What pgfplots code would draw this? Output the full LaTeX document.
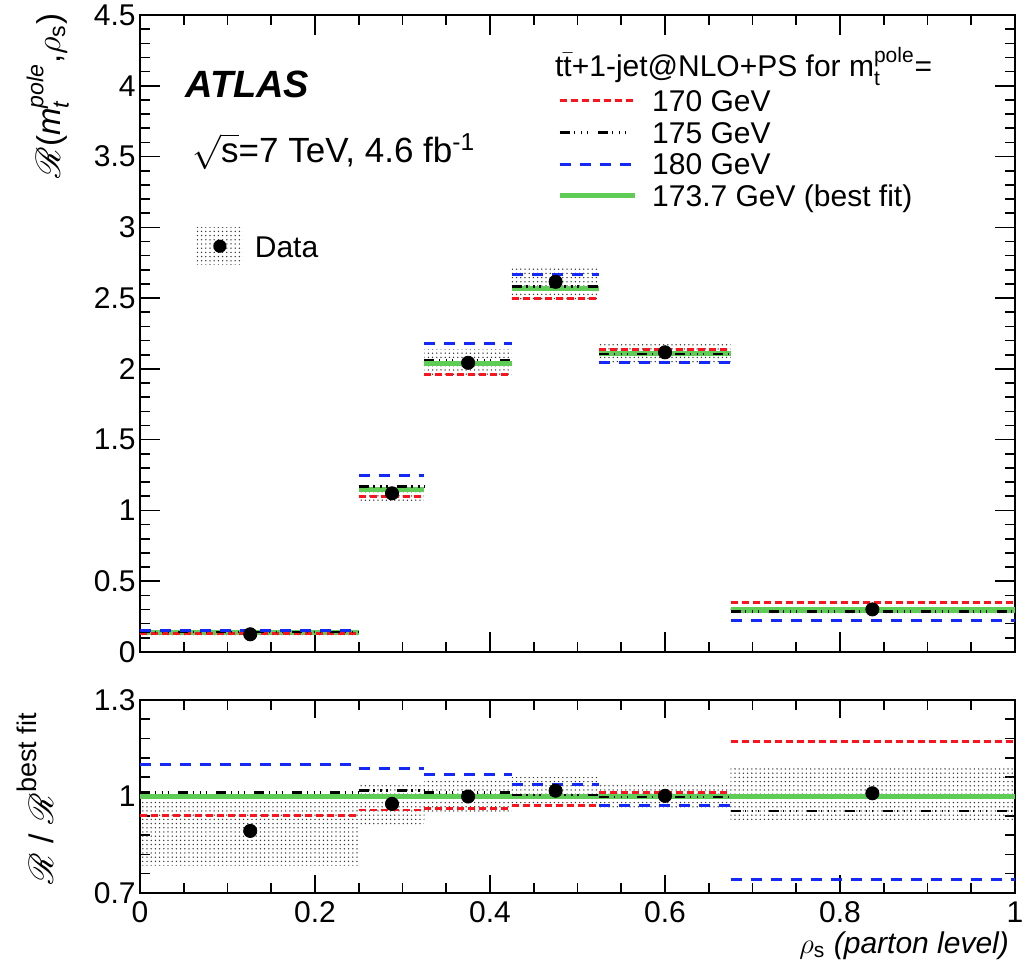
\documentclass[border=0pt]{standalone}
\usepackage{amsmath}
\usepackage{mathrsfs}
\usepackage{fontspec}
\setmainfont{Liberation Sans}
\usepackage{pgfplots}
\pgfplotsset{compat=1.18}
\usetikzlibrary{patterns.meta}

\definecolor{mred}{RGB}{250,20,30}
\definecolor{mblue}{RGB}{20,40,250}
\definecolor{mgreen}{RGB}{95,205,85}

\tikzset{
  m170/.style={mred, line width=1.4pt, dash pattern=on 3.5pt off 2pt},
  m175/.style={black, line width=1.3pt, dash pattern=on 5pt off 2.3pt on 0.6pt off 2.9pt on 0.6pt off 2.4pt on 0.6pt off 4.6pt},
  m180/.style={mblue, line width=1.5pt, dash pattern=on 5.5pt off 4.5pt},
  mfit/.style={mgreen, line width=2.6pt},
  dotfill/.style={pattern={Dots[distance=2.1pt,radius=0.38pt]}, pattern color=black!80},
  band/.style={draw=none, dotfill},
}

\pgfplotsset{
  rootframe/.style={
    scale only axis, width=437.5pt,
    xmin=0, xmax=1,
    xtick={0,0.2,0.4,0.6,0.8,1}, minor x tick num=3,
    tick align=inside,
    axis line style={line width=0.9pt},
    every tick/.style={black, line width=0.8pt},
    /pgf/number format/assume math mode=true,
    yticklabel style={inner sep=2pt},
    xticklabel style={inner sep=4pt},
    unbounded coords=jump,
  },
}

\begin{document}
\fontsize{15}{18}\selectfont
\begin{tikzpicture}

% ---------------- upper panel: R(m_t, rho_s) ----------------
\begin{axis}[rootframe,
  at={(0pt,120.5pt)}, anchor=south west, height=318.5pt,
  ymin=0, ymax=4.5,
  ytick={0,0.5,1,1.5,2,2.5,3,3.5,4,4.5}, minor y tick num=4,
  major tick length=10pt, minor tick length=5pt,
  xticklabels={},
  ylabel={$\mathscr{R}$(\textit{m}$^{\textit{pole}}_{\textit{t}}$,$\rho_{\text{s}}$)},
  every axis y label/.style={at={(axis description cs:-0.0914,1.003)}, rotate=90,
    anchor=base east, inner sep=0pt, font=\fontsize{16.5}{19}\selectfont},
  legend image code/.code={\draw[#1] (0pt,0pt) -- (37.5pt,0pt);},
  legend cell align=left,
  legend style={at={(axis description cs:0.4766,0.890)}, anchor=north west,
    draw=none, fill=none, inner sep=0pt, outer sep=0pt, row sep=0pt, column sep=7.5pt,
    nodes={inner sep=0pt, text height=13.3pt, text depth=2.5pt}},
]
\addlegendimage{m170}\addlegendentry{170 GeV}
\addlegendimage{m175}\addlegendentry{175 GeV}
\addlegendimage{m180}\addlegendentry{180 GeV}
\addlegendimage{mfit}\addlegendentry{173.7 GeV (best fit)}

% total uncertainty of the data
\addplot[band, forget plot] coordinates {
  (0,0.109) (0.25,0.109) (0.25,0.138) (0,0.138) (0,nan)
  (0.25,1.052) (0.325,1.052) (0.325,1.186) (0.25,1.186) (0.25,nan)
  (0.325,1.944) (0.425,1.944) (0.425,2.140) (0.325,2.140) (0.325,nan)
  (0.425,2.490) (0.525,2.490) (0.525,2.725) (0.425,2.725) (0.425,nan)
  (0.525,2.035) (0.675,2.035) (0.675,2.185) (0.525,2.185) (0.525,nan)
  (0.675,0.275) (1,0.275) (1,0.325) (0.675,0.325)};

% best fit, 173.7 GeV
\addplot[mfit, forget plot] coordinates {
  (0,0.139) (0.25,0.139) (0.25,nan) (0.25,1.149) (0.325,1.149) (0.325,nan)
  (0.325,2.039) (0.425,2.039) (0.425,nan) (0.425,2.568) (0.525,2.568) (0.525,nan)
  (0.525,2.109) (0.675,2.109) (0.675,nan) (0.675,0.297) (1,0.297)};
% 170 GeV
\addplot[m170, forget plot] coordinates {
  (0,0.131) (0.25,0.131) (0.25,nan) (0.25,1.100) (0.325,1.100) (0.325,nan)
  (0.325,1.962) (0.425,1.962) (0.425,nan) (0.425,2.500) (0.525,2.500) (0.525,nan)
  (0.525,2.136) (0.675,2.136) (0.675,nan) (0.675,0.351) (1,0.351)};
% 175 GeV
\addplot[m175, forget plot] coordinates {
  (0,0.141) (0.25,0.141) (0.25,nan) (0.25,1.167) (0.325,1.167) (0.325,nan)
  (0.325,2.064) (0.425,2.064) (0.425,nan) (0.425,2.581) (0.525,2.581) (0.525,nan)
  (0.525,2.105) (0.675,2.105) (0.675,nan) (0.675,0.285) (1,0.285)};
% 180 GeV
\addplot[m180, forget plot] coordinates {
  (0,0.153) (0.25,0.153) (0.25,nan) (0.25,1.245) (0.325,1.245) (0.325,nan)
  (0.325,2.176) (0.425,2.176) (0.425,nan) (0.425,2.667) (0.525,2.667) (0.525,nan)
  (0.525,2.048) (0.675,2.048) (0.675,nan) (0.675,0.220) (1,0.220)};
% data
\addplot[only marks, mark=*, mark size=3.3pt, black, forget plot] coordinates {
  (0.126,0.125) (0.288,1.121) (0.375,2.043) (0.475,2.615) (0.600,2.117) (0.837,0.301)};

\node[anchor=base west, inner sep=0pt, font=\fontsize{19}{22}\selectfont\bfseries\itshape]
  at (axis description cs:0.0514,0.871) {ATLAS};
\node[anchor=base west, inner sep=0pt, font=\fontsize{17.5}{21}\selectfont]
  at (axis description cs:0.0594,0.768) {$\sqrt{\text{s}}$=7 TeV, 4.6 fb\textsuperscript{-1}};
\node[anchor=base west, inner sep=0pt]
  at (axis description cs:0.474,0.903) {t$\bar{\text{t}}$+1-jet@NLO+PS for m$^{\text{pole}}_{\text{t}}$=};
\end{axis}

% data legend entry of the upper panel
\begin{axis}[at={(0pt,120.5pt)}, anchor=south west, scale only axis,
  width=437.5pt, height=318.5pt, xmin=0, xmax=1, ymin=0, ymax=4.5, hide axis,
  legend cell align=left,
  legend style={at={(axis description cs:0.065,0.637)}, anchor=west,
    draw=none, fill=none, inner sep=0pt, outer sep=0pt, column sep=6pt,
    nodes={inner sep=0pt, text height=13.3pt, text depth=2.5pt}},
]
\addlegendimage{legend image code/.code={
  \path[draw=none, dotfill] (0pt,-9.25pt) rectangle (23pt,9.25pt);
  \path[draw=none, fill=black] (11.5pt,0pt) circle (3.3pt);}}
\addlegendentry{Data}
\end{axis}

% ---------------- lower panel: ratio to best fit ----------------
\begin{axis}[rootframe,
  at={(0pt,0pt)}, anchor=south west, height=96.5pt,
  ymin=0.7, ymax=1.3,
  ytick={0.7,1,1.3}, minor y tick num=4,
  major tick length=9pt, minor tick length=5pt,
  xlabel={$\rho_{\text{s}}$ \textit{(parton level)}},
  every axis x label/.style={at={(axis description cs:0.9935,-0.311)}, anchor=base east, inner sep=0pt},
  ylabel={{\fontsize{17}{20}\selectfont$\mathscr{R}$ / $\mathscr{R}$}\raisebox{1.05ex}{\fontsize{13.5}{16}\selectfont best fit}},
  every axis y label/.style={at={(axis description cs:-0.0994,0.933)}, rotate=90, anchor=base east, inner sep=0pt},
]
\addplot[band] coordinates {
  (0,0.785) (0.25,0.785) (0.25,0.995) (0,0.995) (0,nan)
  (0.25,0.912) (0.325,0.912) (0.325,1.036) (0.25,1.036) (0.25,nan)
  (0.325,0.953) (0.425,0.953) (0.425,1.051) (0.325,1.051) (0.325,nan)
  (0.425,0.970) (0.525,0.970) (0.525,1.060) (0.425,1.060) (0.425,nan)
  (0.525,0.963) (0.675,0.963) (0.675,1.036) (0.525,1.036) (0.525,nan)
  (0.675,0.927) (1,0.927) (1,1.093) (0.675,1.093)};
\addplot[mfit] coordinates {(0,1) (1,1)};
\addplot[m170] coordinates {
  (0,0.942) (0.25,0.942) (0.25,nan) (0.25,0.958) (0.325,0.958) (0.325,nan)
  (0.325,0.962) (0.425,0.962) (0.425,nan) (0.425,0.973) (0.525,0.973) (0.525,nan)
  (0.525,1.012) (0.675,1.012) (0.675,nan) (0.675,1.172) (1,1.172)};
\addplot[m175] coordinates {
  (0,1.012) (0.25,1.012) (0.25,nan) (0.25,1.018) (0.325,1.018) (0.325,nan)
  (0.325,1.012) (0.425,1.012) (0.425,nan) (0.425,1.005) (0.525,1.005) (0.525,nan)
  (0.525,0.998) (0.675,0.998) (0.675,nan) (0.675,0.955) (1,0.955)};
\addplot[m180] coordinates {
  (0,1.098) (0.25,1.098) (0.25,nan) (0.25,1.088) (0.325,1.088) (0.325,nan)
  (0.325,1.067) (0.425,1.067) (0.425,nan) (0.425,1.038) (0.525,1.038) (0.525,nan)
  (0.525,0.971) (0.675,0.971) (0.675,nan) (0.675,0.743) (1,0.743)};
\addplot[only marks, mark=*, mark size=3.3pt, black] coordinates {
  (0.126,0.893) (0.288,0.977) (0.375,1.000) (0.475,1.018) (0.600,1.002) (0.837,1.010)};
\end{axis}

\pgfresetboundingbox
\path[use as bounding box] (-70pt,-43pt) rectangle (442.5pt,446.5pt);
\end{tikzpicture}
\end{document}
